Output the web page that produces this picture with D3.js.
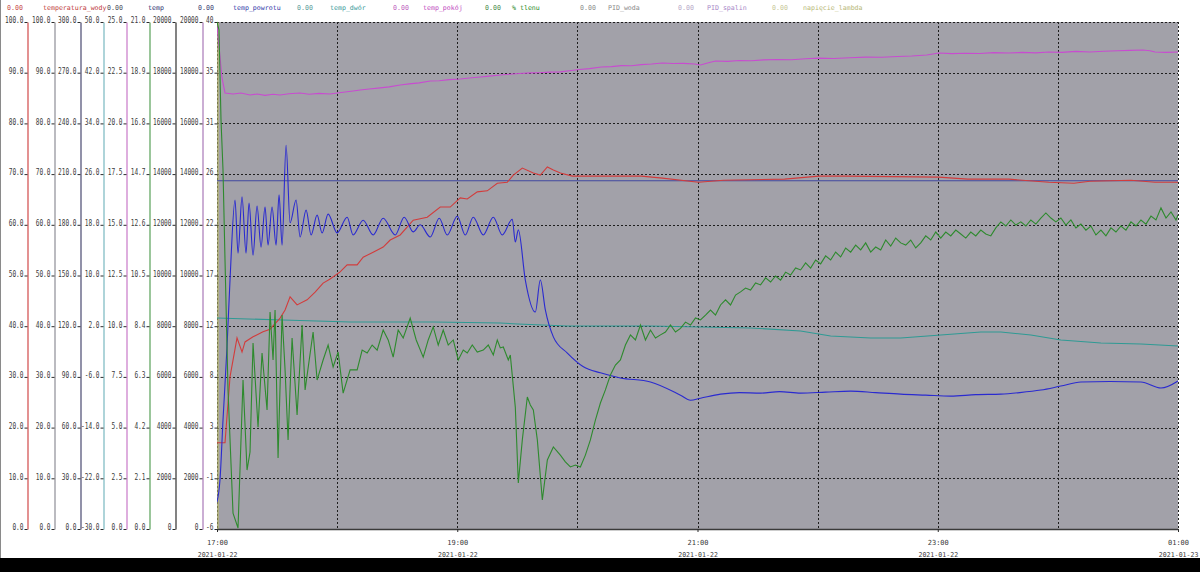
<!DOCTYPE html>
<html>
<head>
<meta charset="utf-8">
<script src="https://cdn.jsdelivr.net/npm/d3@7"></script>
<style>
html, body { margin: 0; padding: 0; background: #fff; }
svg { display: block; }
text { font-family: "DejaVu Sans Mono", monospace; font-size: 8.5px; }
</style>
</head>
<body>
<svg id="chart"></svg>
<script>
// boiler log chart, 2021-01-22 17:00 .. 2021-01-23 01:00

// DATA

// legend row
var legendNames = ["temperatura_wody", "temp", "temp_powrotu", "temp_dwór", "temp_pokój",
                   "% tlenu", "PID_woda", "PID_spalin", "napięcie_lambda"];
var legendValues = ["0.00", "0.00", "0.00", "0.00", "0.00", "0.00", "0.00", "0.00", "0.00"];

// left axes, one per column
var axisDomains = [[0, 100], [0, 100], [0, 300], [-30, 50], [0, 25], [0, 21],
                   [0, 20000], [0, 20000], [-6, 40]];
var axisFormats = [".1f", ".1f", ".1f", ".1f", ".1f", ".1f", ".0f", ".0f", ".0f"];

// time range and labelled hours (offsets from start)
var timeStart = Date.UTC(2021, 0, 22, 17, 0);
var timeEnd = Date.UTC(2021, 0, 23, 1, 0);
var labelHours = [0, 2, 4, 6, 8];

// series: [minutes since 17:00, value]
var tempWody = [[0,17.0],[4,17.0],[6.5,30.0],[10,37.7],[12.5,34.9],[14,36.9],[18,37.9],[23,38.9],
  [26.5,39.4],[31.5,41.6],[34,43.2],[36.5,45.8],[40,44.2],[45,45.2],[49,46.7],[53,48.5],[56.5,49.3],
  [61.5,50.7],[65,52.1],[70,52.1],[73,53.6],[78,54.6],[83,55.6],[86.5,57.0],[91.5,58.0],[98,60.9],
  [105,61.5],[111.5,63.5],[116.5,63.5],[121.5,65.3],[125,65.1],[130,66.5],[135,66.7],[140,68.2],
  [145,68.4],[148,69.8],[152.5,71.2],[158,70.2],[161.5,69.8],[165,71.4],[168,70.8],[171.5,70.2],
  [177.5,69.6],[192,69.6],[212,69.6],[222.5,69.2],[240.5,68.4],[253,68.8],[283.5,69.0],[300.5,69.6],
  [314,69.6],[360.5,69.4],[375,69.0],[395.5,69.0],[415.5,68.4],[428,68.2],[436,68.6],[456.5,68.8],
  [468.5,68.4],[480,68.4]];

var tempSet = [[0,68.7],[480,68.7]];

var tempPowrotu = [[0,5.3],[1.5,9.7],[3,21.5],[5,35.9],[6.5,49.1],[9,64.9],[10.5,54.4],[12.5,65.5],
  [14.5,54.4],[16,64.3],[18,54.0],[20,63.7],[22,55.6],[24,63.5],[25.5,56.0],[27.5,63.5],[29.5,56.0],
  [31,65.9],[32.5,56.0],[34.5,75.7],[36.5,60.4],[39.5,64.9],[41.5,57.6],[44.5,62.9],[47,58.0],
  [50,61.9],[52.5,58.4],[55.5,62.1],[60,58.4],[65,61.5],[68,58.0],[73,60.9],[78,58.0],[83,61.3],
  [89,58.0],[93.5,61.5],[98,58.6],[101.5,60.0],[106.5,57.6],[111,61.3],[115,58.0],[120,61.7],
  [124,58.0],[128,61.5],[133,58.0],[138,61.5],[142.5,58.0],[147.5,61.1],[149,56.6],[150.5,59.0],
  [154,49.1],[159,42.8],[161.5,49.1],[164,43.2],[168,37.9],[175,34.7],[183,32.0],[191.5,30.8],
  [201.5,29.8],[216.5,29.0],[231.5,26.4],[236.5,25.4],[241.5,25.8],[251.5,26.6],[261,26.9],
  [271.5,26.8],[281,27.1],[291.5,26.8],[304,27.0],[316.5,27.2],[329,26.9],[341.5,26.6],[354,26.4],
  [366.5,26.2],[379,26.5],[391.5,26.6],[401,26.9],[411.5,27.4],[421.5,28.2],[431.5,29.0],
  [446,29.1],[461.5,29.0],[471.5,27.8],[480,29.2]];

var tempDwor = [[0,3.29],[33,2.98],[66.5,2.66],[108,2.66],[141.5,2.50],[150,2.35],[175,2.03],
  [191.5,2.03],[216.5,2.03],[241.5,1.87],[266.5,1.72],[291.5,1.24],[306.5,0.45],[326.5,0.13],
  [341.5,0.13],[361.5,0.61],[381.5,1.08],[391.5,1.08],[406.5,0.61],[421.5,-0.18],[441.5,-0.65],
  [461.5,-0.81],[480,-1.12]];

var tempPokoj = [[0,24.85],[2.5,22.24],[4,21.5],[8,21.45],[12,21.5],[16.5,21.4],[20,21.45],[24,21.38],
  [28,21.44],[31.5,21.4],[36,21.46],[41.5,21.5],[46,21.44],[51,21.48],[56.5,21.45],[60,21.5],
  [64,21.55],[68,21.6],[71.5,21.65],[76,21.7],[81.5,21.75],[86,21.8],[91.5,21.89],[96,21.95],
  [101,22.0],[106.5,22.09],[111,22.1],[116,22.16],[121.5,22.19],[126,22.24],[131.5,22.29],
  [136,22.33],[141.5,22.39],[146,22.42],[151,22.46],[156.5,22.49],[161,22.5],[166,22.53],
  [171.5,22.54],[176,22.6],[181,22.66],[186,22.7],[192,22.78],[197,22.8],[202,22.85],[207,22.84],
  [212,22.9],[217,22.93],[222.5,22.98],[228,22.95],[233,22.96],[238.5,22.93],[241.5,22.88],
  [245,22.98],[249,23.08],[255,23.06],[261,23.1],[267,23.09],[273,23.13],[280,23.15],[287,23.14],
  [294,23.19],[300.5,23.22],[308,23.2],[316,23.24],[324,23.27],[332,23.26],[340,23.3],[347,23.32],
  [354.5,23.37],[360.5,23.47],[367,23.44],[374,23.46],[381,23.45],[388,23.49],[395.5,23.47],
  [402,23.5],[409,23.48],[415.5,23.52],[422,23.5],[429,23.55],[436,23.52],[443,23.56],[450,23.58],
  [456,23.6],[462.5,23.62],[466,23.58],[468.5,23.52],[474,23.5],[480,23.52]];

var tlen = [[0,21.0],[1,20.67],[2,16.94],[3,14.87],[4,11.14],[5.5,5.76],[8,0.66],[10.5,0.04],
  [13,6.17],[15,2.44],[16.5,3.19],[18,7.70],[20.5,4.22],[22.5,7.29],[25,4.93],[26.5,8.99],[28,7.00],
  [29,9.07],[30.5,2.94],[32.5,8.86],[34,6.59],[35.5,3.69],[37.5,7.91],[40,4.72],[42.5,8.45],
  [44,5.76],[48,8.16],[50,6.17],[53,7.00],[55.5,7.62],[58,6.71],[60.5,7.33],[63,5.63],[66.5,6.59],
  [70,6.59],[72.5,7.41],[75,7.29],[77.5,7.62],[80,7.41],[83,8.24],[85.5,7.83],[88,7.12],[90.5,8.24],
  [93,7.91],[96.5,8.74],[99.5,7.83],[103,7.12],[105.5,7.83],[108,8.37],[110.5,7.62],[113,8.24],
  [115.5,7.62],[118,7.83],[120.5,7.00],[123,7.41],[125,7.29],[127.5,7.62],[130,7.33],[133,7.41],
  [135.5,7.62],[138,7.21],[140,7.83],[141.5,7.50],[143,7.54],[145.5,7.00],[146.5,7.21],[149,5.05],
  [150.5,1.91],[152.5,3.69],[155,5.47],[156.5,5.14],[158,4.93],[160,3.69],[162.5,1.20],[165,2.86],
  [168,3.40],[171.5,3.06],[174,2.78],[176.5,2.57],[179,2.65],[181.5,2.57],[184,3.06],[186.5,3.69],
  [189,4.51],[191.5,5.22],[194,5.76],[196.5,6.38],[199,6.79],[201.5,7.00],[204,7.62],[206.5,8.04],
  [209,7.83],[211.5,8.45],[214,7.83],[216.5,8.24],[219,7.91],[221.5,8.04],[224,8.16],[226.5,8.45],
  [229,8.16],[231.5,8.31],[234,8.57],[236.5,8.45],[239,8.74],[241.5,8.66],[244,8.86],[246.5,9.07],
  [249,8.86],[251.5,9.28],[254,9.49],[256.5,9.28],[259,9.69],[261.5,9.82],[264,9.98],[266.5,9.90],
  [269,10.19],[271.5,10.11],[274,10.40],[276.5,10.23],[279,10.48],[281.5,10.31],[284,10.64],
  [286.5,10.52],[289,10.81],[291.5,10.73],[294,11.02],[296.5,10.81],[299,11.14],[301.5,10.98],
  [304,11.31],[306.5,11.14],[309,11.47],[311.5,11.27],[314,11.64],[316.5,11.47],[319,11.76],
  [321.5,11.56],[324,11.85],[326.5,11.47],[329,11.68],[331.5,11.56],[334,11.97],[336.5,11.72],
  [339,12.05],[341.5,11.85],[344,11.76],[346.5,11.97],[349,11.64],[351.5,11.85],[354,12.14],
  [356.5,11.97],[359,12.30],[361.5,12.05],[364,12.30],[366.5,12.14],[369,12.38],[371.5,12.22],
  [374,12.05],[376.5,12.30],[379,12.14],[381.5,12.38],[384,12.22],[386.5,12.14],[389,12.47],
  [391.5,12.72],[394,12.55],[396.5,12.80],[399,12.59],[401.5,12.72],[404,12.55],[406.5,12.80],
  [409,12.63],[411.5,12.88],[414,13.09],[416.5,12.88],[419,12.72],[421.5,12.88],[424,12.59],
  [426.5,12.80],[429,12.47],[431.5,12.63],[434,12.38],[436.5,12.55],[439,12.18],[441.5,12.38],
  [444,12.14],[446.5,12.47],[449,12.30],[451.5,12.55],[454,12.38],[456.5,12.72],[459,12.55],
  [461.5,12.80],[464,12.63],[466.5,12.96],[469,12.80],[471.5,13.30],[474,12.88],[476.5,13.13],
  [479,12.80],[480,13.01]];

// LAYOUT / STYLE

var width = 1200, height = 572;
var plot = {left: 217, right: 1178, top: 22, bottom: 529};
var axisX = [27, 54, 80, 103, 126, 149, 175, 202, 217];
var axisColors = ["#d04848", "#8e8e96", "#484870", "#78b8c0", "#c878c8", "#58a058",
                  "#303030", "#a878b8", "#b8b868"];
var legendValueX = [7, 107, 198, 297, 393, 485, 580, 678, 772];
var legendNameX = [43, 148, 233, 330, 423, 512, 608, 707, 803];
var legendNameColors = ["#c03a3a", "#2c2c70", "#3038a8", "#3a9a9a", "#c048c0", "#2a8a2a",
                        "#8a8a8a", "#a888c8", "#b8b878"];
var legendValueColors = ["#c84848", "#4a4a58", "#3a3a70", "#5a9a9a", "#c060c0", "#4a8a4a",
                         "#8c8c8c", "#b8a8c8", "#c8c898"];
var charW = 3.7;
var smallFont = "6.6px";

var svg = d3.select("#chart")
    .attr("width", width)
    .attr("height", height);

var fmtLocale = d3.formatLocale({decimal: ".", thousands: "", grouping: [3], currency: ["", ""], minus: "-"});

// squeeze text to the narrow look of the original
function squeeze(sel, w) {
    w = w || charW;
    sel.attr("textLength", function() { return this.textContent.length * w; })
       .attr("lengthAdjust", "spacingAndGlyphs");
}

// SCALES

var x = d3.scaleUtc()
    .domain([timeStart, timeEnd])
    .range([plot.left, plot.right]);

var yScales = axisDomains.map(dom => d3.scaleLinear().domain(dom).range([plot.bottom, plot.top]));

function tx(m) { return x(new Date(timeStart + m * 60000)); }

// frame bits
svg.append("rect").attr("x", 0).attr("y", 558).attr("width", width).attr("height", 14).attr("fill", "#000");
svg.append("line").attr("x1", 0.5).attr("x2", 0.5).attr("y1", 0).attr("y2", 558)
    .attr("stroke", "#8a8a8a");

// plot background
svg.append("rect")
    .attr("x", plot.left).attr("y", plot.top)
    .attr("width", plot.right - plot.left).attr("height", plot.bottom - plot.top)
    .attr("fill", "#a2a1a9");

// GRID
var gridY = d3.range(11).map(i => i / 10);
var unitY = d3.scaleLinear().domain([0, 1]).range([plot.bottom, plot.top]);
svg.append("g").selectAll("line")
    .data(gridY)
    .enter().append("line")
    .attr("x1", plot.left).attr("x2", plot.right)
    .attr("y1", d => Math.round(unitY(d)) + 0.5).attr("y2", d => Math.round(unitY(d)) + 0.5)
    .attr("stroke", "#1e1e1e").attr("stroke-dasharray", "2,2");

svg.append("g").selectAll("line")
    .data(d3.utcHour.every(1).range(new Date(timeStart), new Date(timeEnd + 1)))
    .enter().append("line")
    .attr("x1", d => Math.round(x(d)) + 0.5).attr("x2", d => Math.round(x(d)) + 0.5)
    .attr("y1", plot.top).attr("y2", plot.bottom)
    .attr("stroke", "#1e1e1e").attr("stroke-dasharray", "2,2");

// LEFT AXES
axisDomains.forEach(function(dom, i) {
    var fmt = fmtLocale.format(axisFormats[i]);
    var vals = d3.range(11).map(k => dom[0] + (dom[1] - dom[0]) * k / 10);
    var g = svg.append("g")
        .attr("transform", "translate(" + (axisX[i] + 0.5) + ",0)")
        .call(d3.axisLeft(yScales[i])
            .tickValues(vals)
            .tickFormat(fmt)
            .tickSizeInner(3)
            .tickSizeOuter(0)
            .tickPadding(1));
    g.select(".domain").attr("stroke", axisColors[i]).attr("stroke-width", 1.2);
    g.selectAll(".tick line").attr("stroke", "#2a2a2a");
    g.selectAll(".tick text")
        .attr("fill", "#3a3a3a")
        .attr("dy", "0.1em")
        .style("font-family", "'DejaVu Sans Mono', monospace")
        .style("font-size", "8.5px")
        .call(squeeze);
});

// BOTTOM AXIS
var labelTimes = labelHours.map(h => new Date(timeStart + h * 3600000));
var xAxis = svg.append("g")
    .attr("transform", "translate(0," + plot.bottom + ")")
    .call(d3.axisBottom(x)
        .tickValues(labelTimes)
        .tickSizeInner(3)
        .tickSizeOuter(0)
        .tickFormat(""));
xAxis.select(".domain").attr("stroke", "#3a3a3a").attr("stroke-width", 1.5);
xAxis.selectAll(".tick line").attr("stroke", "#2a2a2a");
xAxis.selectAll(".tick text").remove();
var lastTick = labelTimes.length - 1;
xAxis.selectAll(".tick").append("text")
    .attr("y", 16).attr("fill", "#3a3a3a").attr("text-anchor", "middle")
    .style("font-size", "7px")
    .text(d => d3.utcFormat("%H:%M")(d));
// the last date label sits flush with the right edge
xAxis.selectAll(".tick").append("text")
    .attr("y", 28).attr("fill", "#3a3a3a")
    .attr("x", (d, i) => i === lastTick ? 20 : 0)
    .attr("text-anchor", (d, i) => i === lastTick ? "end" : "middle")
    .style("font-size", smallFont)
    .text(d => d3.utcFormat("%Y-%m-%d")(d));

// LEGEND
var legend = svg.append("g");
legend.selectAll("text.val")
    .data(legendValues)
    .enter().append("text")
    .attr("class", "val")
    .attr("x", (d, i) => legendValueX[i]).attr("y", 10)
    .attr("fill", (d, i) => legendValueColors[i])
    .style("font-size", smallFont)
    .text(d => d);
legend.selectAll("text.name")
    .data(legendNames)
    .enter().append("text")
    .attr("class", "name")
    .attr("x", (d, i) => legendNameX[i]).attr("y", 10)
    .attr("fill", (d, i) => legendNameColors[i])
    .style("font-size", smallFont)
    .text(d => d);

// SERIES
svg.append("clipPath").attr("id", "plotclip")
    .append("rect")
    .attr("x", plot.left).attr("y", plot.top - 1)
    .attr("width", plot.right - plot.left + 1).attr("height", plot.bottom - plot.top + 1);

var series = [
    {data: tempDwor, axis: 3, color: "#2f9a94", curve: d3.curveLinear},
    {data: tempSet, axis: 1, color: "#4048a0", curve: d3.curveLinear},
    {data: tempWody, axis: 0, color: "#d23c3c", curve: d3.curveLinear},
    {data: tempPowrotu, axis: 1, color: "#2a2ad0", curve: d3.curveMonotoneX},
    {data: tempPokoj, axis: 4, color: "#c84cd0", curve: d3.curveLinear},
    {data: tlen, axis: 5, color: "#2e8a2e", curve: d3.curveLinear}
];

var lines = svg.append("g").attr("clip-path", "url(#plotclip)");
series.forEach(function(s) {
    var line = d3.line()
        .curve(s.curve)
        .x(d => tx(d[0]))
        .y(d => yScales[s.axis](d[1]));
    lines.append("path")
        .datum(s.data)
        .attr("d", line)
        .attr("fill", "none")
        .attr("stroke", s.color)
        .attr("stroke-width", 1.1);
});
</script>
</body>
</html>
